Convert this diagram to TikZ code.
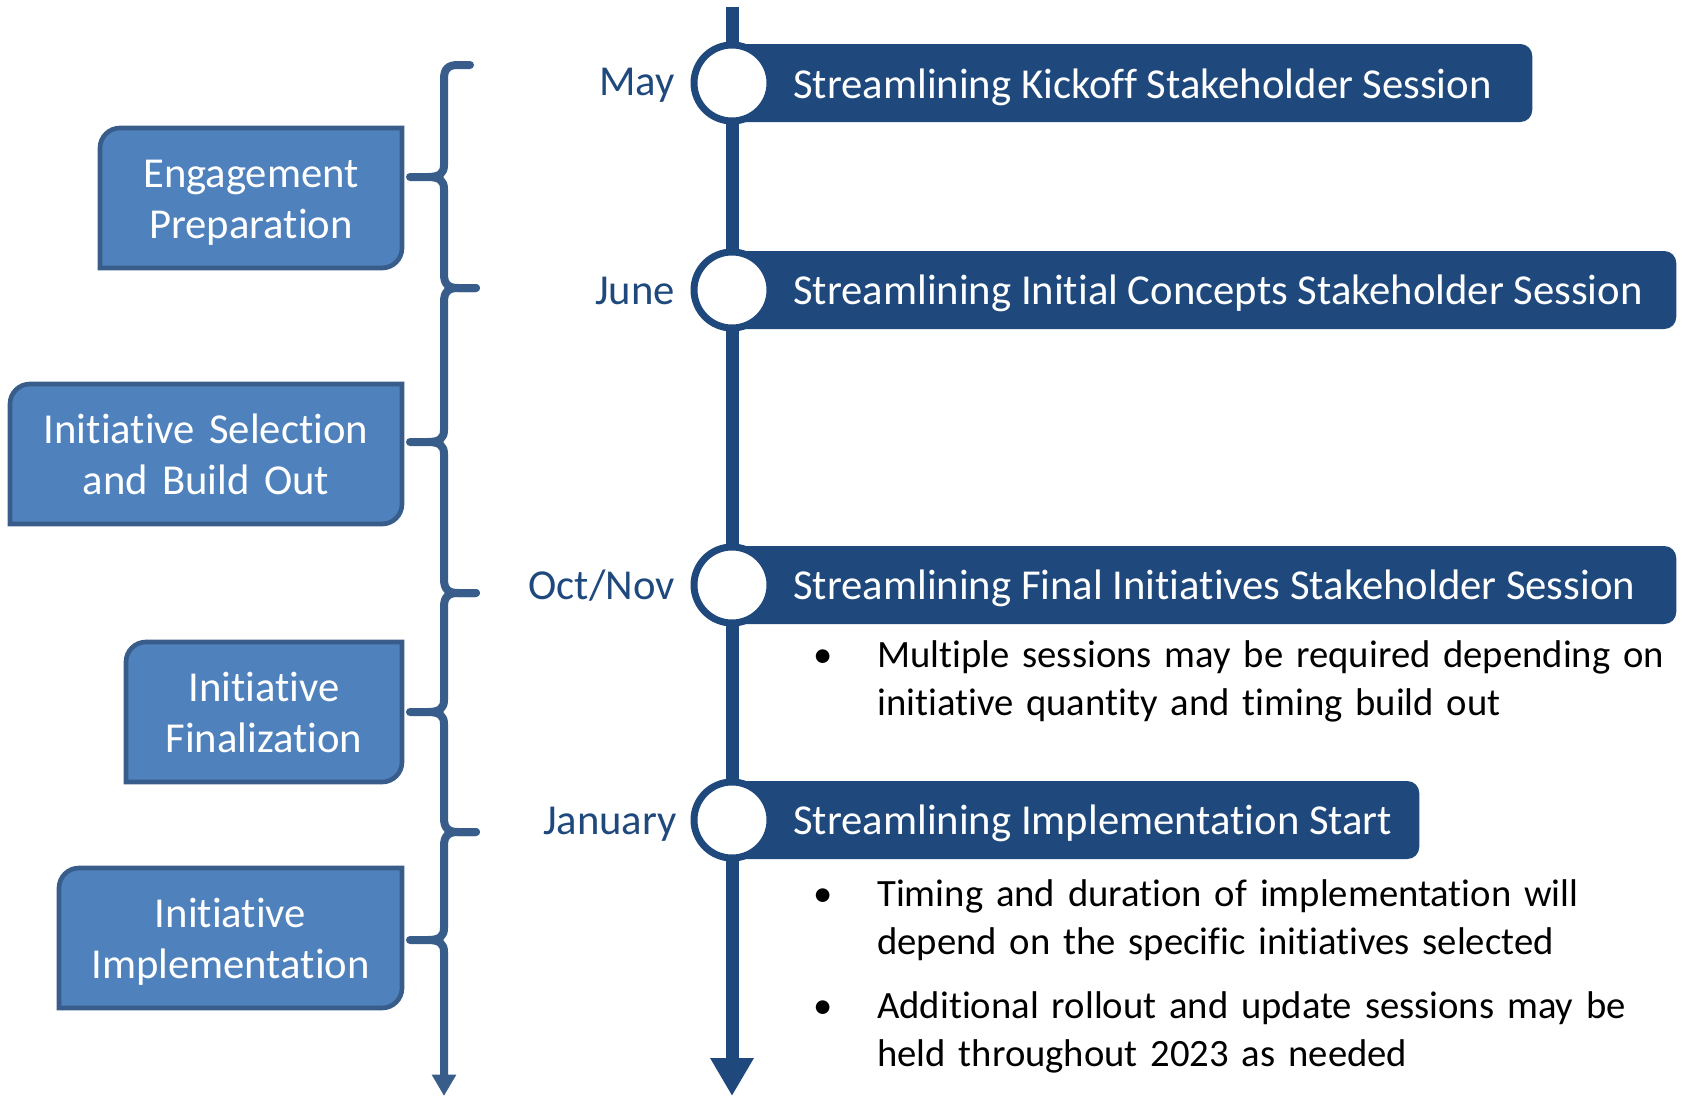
\documentclass[tikz,border=0pt]{standalone}
\usepackage{fontspec}
\setmainfont{Carlito}[Ligatures=NoCommon]
\usepackage{tikz}
\usetikzlibrary{arrows.meta}
\definecolor{navy}{HTML}{1F497D}
\definecolor{boxblue}{HTML}{4F81BD}
\definecolor{boxedge}{HTML}{385D8A}

\begin{document}
\begin{tikzpicture}[x=0.75pt,y=-0.75pt,
	sessionbar/.style={fill=navy, rounded corners=9pt, minimum height=58.5pt, inner sep=0pt, anchor=west},
	milestone/.style={circle, draw=navy, line width=5.25pt, fill=white, minimum size=57pt, inner sep=0pt},
	monthlabel/.style={text=navy, inner sep=0pt, anchor=base east, font=\fontsize{32pt}{38.5pt}\selectfont},
	sessiontext/.style={text=white, inner sep=0pt, anchor=base west, font=\fontsize{32pt}{38.5pt}\selectfont},
	phasebox/.style={fill=boxblue, draw=boxedge, line width=3.5pt},
	phasetext/.style={text=white, inner sep=0pt, anchor=base, text width=290pt, align=center, font=\fontsize{32pt}{38.5pt}\selectfont},
	bracepath/.style={draw=boxedge, line width=6pt, line cap=round, line join=round},
	bulletmark/.style={inner sep=0pt, anchor=base, font=\fontsize{29pt}{36pt}\selectfont},
	notetext/.style={inner sep=0pt, anchor=base west, text width=620pt, align=left, font=\fontsize{29pt}{36pt}\selectfont}]
	\useasboundingbox (0,0) rectangle (1684,1096);
	
	% time line
	\coordinate (tl top) at (732,7);
	\coordinate (tl end) at (732,1096);
	\draw[navy, line width=9.75pt, -{Triangle[length=28.5pt,width=30.75pt]}] (tl top) -- (tl end);
	
	% sessions
	\node[sessionbar, minimum width=600pt] (bar1) at (732,83) {};
	\node[sessionbar, minimum width=708pt] (bar2) at (732,290) {};
	\node[sessionbar, minimum width=708pt] (bar3) at (732,585) {};
	\node[sessionbar, minimum width=515.25pt] (bar4) at (732,820) {};
	
	\node[milestone] (may) at (732,83) {};
	\node[milestone] (june) at (732,290) {};
	\node[milestone] (octnov) at (732,585) {};
	\node[milestone] (jan) at (732,820) {};
	
	\node[monthlabel] (may lbl) at (675,95) {May};
	\node[monthlabel] (june lbl) at (675,304) {June};
	\node[monthlabel] (octnov lbl) at (675,599) {Oct/Nov};
	\node[monthlabel] (jan lbl) at (677,834) {January};
	
	\node[sessiontext] (kickoff) at (793,98) {Streamlining Kickoff Stakeholder Session};
	\node[sessiontext] (concepts) at (793,304) {Streamlining Initial Concepts Stakeholder Session};
	\node[sessiontext] (finalinit) at (793,599) {Streamlining Final Initiatives Stakeholder Session};
	\node[sessiontext] (implstart) at (793,834) {Streamlining Implementation Start};
	
	% notes
	\node[bulletmark] (dot1) at (823,667) {•};
	\node[notetext] (note1) at (877,667) {Multiple sessions may be required depending on\\initiative quantity and timing build out};
	\node[bulletmark] (dot2) at (823,906) {•};
	\node[notetext] (note2) at (877,906) {Timing and duration of implementation will\\depend on the specific initiatives selected};
	\node[bulletmark] (dot3) at (823,1018) {•};
	\node[notetext] (note3) at (877,1018) {Additional rollout and update sessions may be\\held throughout 2023 as needed};
	
	% phases
	\filldraw[phasebox] (100,268) -- (100,148) arc[start angle=180,end angle=90,radius=15pt] -- (402,128) -- (402,248) arc[start angle=0,end angle=-90,radius=15pt] -- cycle;
	\filldraw[phasebox] (10,524) -- (10,404) arc[start angle=180,end angle=90,radius=15pt] -- (402,384) -- (402,504) arc[start angle=0,end angle=-90,radius=15pt] -- cycle;
	\filldraw[phasebox] (126,782) -- (126,662) arc[start angle=180,end angle=90,radius=15pt] -- (402,642) -- (402,762) arc[start angle=0,end angle=-90,radius=15pt] -- cycle;
	\filldraw[phasebox] (59,1008) -- (59,888) arc[start angle=180,end angle=90,radius=15pt] -- (402,868) -- (402,988) arc[start angle=0,end angle=-90,radius=15pt] -- cycle;
	
	\node[phasetext] (engage) at (251,187) {Engagement\\Preparation};
	\node[phasetext] (select) at (206,443) {Initiative Selection\\and Build Out};
	\node[phasetext] (final) at (264,701) {Initiative\\Finalization};
	\node[phasetext] (implement) at (230.5,927) {Initiative\\Implementation};
	
	% braces
	\draw[bracepath] (470,65) -- (458,65) .. controls (448,65) and (444,69) .. (444,79)
		-- (444,165) .. controls (444,173) and (440,177) .. (428,177) -- (410,177)
		-- (428,177) .. controls (440,177) and (444,181) .. (444,189)
		-- (444,274) .. controls (444,284) and (448,288) .. (458,288) -- (476,288);
	\draw[bracepath] (476,288) -- (458,288) .. controls (448,288) and (444,292) .. (444,302)
		-- (444,430) .. controls (444,438) and (440,442) .. (428,442) -- (410,442)
		-- (428,442) .. controls (440,442) and (444,446) .. (444,454)
		-- (444,579) .. controls (444,589) and (448,593) .. (458,593) -- (476,593);
	\draw[bracepath] (476,593) -- (458,593) .. controls (448,593) and (444,597) .. (444,607)
		-- (444,700) .. controls (444,708) and (440,712) .. (428,712) -- (410,712)
		-- (428,712) .. controls (440,712) and (444,716) .. (444,724)
		-- (444,818) .. controls (444,828) and (448,832) .. (458,832) -- (476,832);
	\coordinate (br end) at (444,1096);
	\draw[bracepath, -{Triangle[length=16pt,width=17.25pt]}] (476,832) -- (458,832) .. controls (448,832) and (444,836) .. (444,846)
		-- (444,928) .. controls (444,936) and (440,940) .. (428,940) -- (410,940)
		-- (428,940) .. controls (440,940) and (444,944) .. (444,952) -- (br end);
\end{tikzpicture}
\end{document}
